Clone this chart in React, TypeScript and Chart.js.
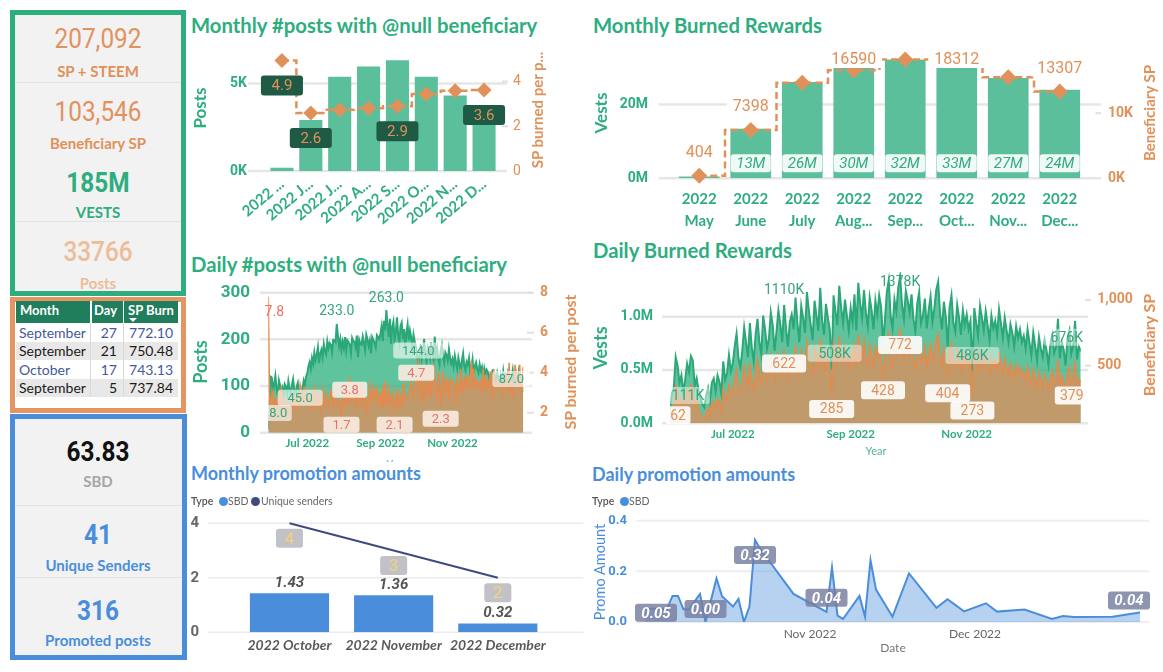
import React, { useEffect, useRef } from 'react';
import { Chart, registerables } from 'chart.js';

Chart.register(...registerables);

// ---------------- data ----------------
const monthLabelsShort = ['2022 ...', '2022 J...', '2022 J...', '2022 A...', '2022 S...', '2022 O...', '2022 N...', '2022 D...'];
const monthlyPosts = [180, 2920, 5390, 5970, 6330, 5390, 4320, 3270];
const monthlySpPerPost = [4.94, 2.6, 2.74, 2.81, 2.9, 3.44, 3.59, 3.62];
const monthlySpLabelIdx = [0, 1, 4, 7];

const burnMonthLabels = [['2022', 'May'], ['2022', 'June'], ['2022', 'July'], ['2022', 'Aug...'], ['2022', 'Sep...'], ['2022', 'Oct...'], ['2022', 'Nov...'], ['2022', 'Dec...']];
const monthlyVests = [0.5e6, 13.4e6, 26.1e6, 29.9e6, 32.2e6, 30.0e6, 27.2e6, 24.0e6];
const monthlyVestLabels = ['', '13M', '26M', '30M', '32M', '33M', '27M', '24M'];
const monthlyBeneficiarySP = [404, 7398, 14650, 16590, 18250, 18312, 15500, 13307];
const monthlyBenLabelIdx = [0, 1, 3, 5, 7];

const firstDay = 149; // 2022-05-29 as day of year
const dayTickValues = [182, 244, 305];
const dayTickLabels = ['Jul 2022', 'Sep 2022', 'Nov 2022'];

const dailyPosts = [
  8, 52, 120,
  118, 86, 105, 122, 95, 78, 112, 101, 88, 96, 72, 104, 99, 83, 110, 94, 81, 102, 115, 92, 76, 98, 107, 89, 45, 84, 96, 112, 103, 120,
  128, 142, 151, 137, 160, 148, 172, 155, 166, 183, 149, 170, 178, 162, 190, 175, 168, 196, 181, 192, 188, 172, 199, 198, 194, 233, 207, 186, 201, 178, 195,
  182, 205, 176, 198, 194, 189, 171, 203, 196, 195, 184, 208, 162, 199, 190, 188, 206, 193, 177, 210, 200, 186, 198, 170, 205, 199, 192, 183, 209, 205, 201,
  212, 228, 196, 240, 219, 263, 231, 205, 244, 190, 226, 238, 199, 215, 247, 208, 193, 229, 236, 201, 222, 187, 214, 232, 198, 219, 205, 183, 210, 196,
  186, 172, 144, 165, 190, 158, 178, 201, 169, 152, 183, 175, 161, 194, 170, 156, 206, 168, 181, 159, 147, 176, 188, 163, 150, 172, 166, 154, 179, 160, 148,
  158, 142, 165, 150, 137, 161, 148, 129, 155, 170, 143, 134, 152, 146, 160, 131, 139, 157, 125, 144, 151, 136, 128, 147, 133, 141, 120, 138, 126, 135,
  130, 118, 124, 109, 136, 112, 121, 104, 127, 115, 98, 122, 110, 131, 106, 117, 95, 125, 113, 102, 119, 134, 108, 96, 123, 111, 129, 101, 116, 105, 87,
];
const dailySpPerPost = [
  7.8, 3.0, 2.4,
  2.9, 3.1, 2.4, 2.6, 2.2, 2.8, 3.0, 2.5, 3.2, 2.9, 2.3, 2.6, 2.1, 2.4, 2.0, 2.2, 2.5, 2.7, 2.3, 2.6, 2.9, 2.2, 2.6, 2.4, 3.4, 3.1, 2.5, 2.7, 3.3, 2.6,
  2.5, 2.8, 3.1, 2.4, 2.2, 2.7, 3.3, 2.9, 2.3, 3.0, 2.6, 2.1, 2.8, 3.2, 2.5, 2.3, 3.0, 2.8, 2.4, 2.6, 3.1, 2.9, 2.2, 2.7, 3.0, 2.4, 2.5, 2.7, 2.6, 1.7, 2.8,
  3.0, 2.5, 3.2, 2.7, 2.3, 3.8, 2.9, 2.6, 3.3, 3.0, 2.7, 2.2, 3.4, 2.8, 2.5, 3.5, 2.6, 2.4, 3.1, 2.8, 1.9, 2.6, 3.4, 3.0, 2.5, 3.3, 3.1, 2.7, 3.2, 2.8, 2.4,
  2.9, 2.4, 3.4, 2.2, 3.6, 2.5, 2.6, 3.4, 2.4, 2.7, 3.0, 2.5, 2.1, 3.0, 2.6, 3.2, 2.2, 2.8, 2.3, 3.4, 3.5, 2.7, 2.6, 2.8, 3.0, 3.2, 3.7, 3.1, 2.8, 3.5,
  3.5, 3.4, 4.7, 3.3, 2.5, 4.0, 3.9, 2.6, 3.3, 4.3, 2.8, 3.4, 4.1, 2.7, 3.6, 4.5, 3.6, 3.4, 2.7, 4.0, 3.8, 2.3, 3.2, 4.1, 3.5, 2.8, 3.7, 3.6, 2.6, 3.7, 3.5,
  3.6, 3.5, 3.3, 2.4, 3.9, 3.2, 3.1, 4.2, 3.6, 2.9, 3.7, 3.8, 3.4, 3.9, 3.1, 3.6, 4.6, 3.8, 4.2, 3.1, 3.7, 3.6, 3.3, 3.5, 3.6, 2.9, 4.2, 3.3, 3.9, 3.2,
  3.5, 3.3, 4.0, 3.9, 2.6, 4.2, 3.4, 3.2, 3.6, 3.4, 3.5, 3.6, 3.5, 2.8, 3.9, 4.0, 3.9, 3.2, 4.5, 2.8, 3.6, 2.9, 2.8, 4.4, 4.0, 3.3, 3.2, 4.4, 2.9, 3.8, 4.3,
];
const dailyVestsK = [
  111, 280, 330,
  620, 540, 380, 450, 290, 410, 560, 480, 630, 590, 350, 420, 310, 240, 180, 150, 260, 330, 210, 380, 420, 300, 450, 390, 280, 580, 410, 470, 640, 490,
  560, 720, 840, 610, 530, 680, 900, 760, 620, 940, 710, 580, 830, 980, 760, 650, 1010, 880, 700, 790, 1040, 920, 680, 860, 1060, 930, 760, 1110, 890, 720, 950,
  1020, 880, 1180, 940, 760, 1100, 990, 850, 1230, 1060, 920, 780, 1150, 1010, 870, 1270, 960, 830, 1120, 990, 880, 508, 1200, 1050, 920, 1290, 1080, 940, 1160, 1010, 870,
  1080, 950, 1210, 870, 1318, 1120, 990, 1250, 1040, 910, 1180, 1060, 880, 1150, 1020, 1200, 1090, 764, 960, 1230, 1340, 1010, 890, 1160, 1050, 1270, 1378, 1110, 980, 1240,
  1150, 1040, 1209, 980, 860, 1120, 1230, 940, 1010, 1170, 890, 1060, 1190, 950, 1080, 1250, 1327, 1030, 880, 1140, 1000, 721, 1090, 1200, 940, 860, 1110, 990, 830, 1060, 920,
  1020, 880, 960, 486, 1080, 940, 820, 1100, 990, 870, 1050, 920, 780, 1010, 890, 960, 830, 1070, 940, 800, 990, 870, 760, 930, 850, 720, 910, 800, 880, 760,
  820, 700, 880, 760, 640, 850, 730, 590, 810, 700, 620, 780, 680, 550, 740, 830, 660, 720, 980, 610, 760, 690, 540, 800, 870, 650, 730, 960, 600, 720, 676,
];
const dailySP = [
  62, 157, 185,
  347, 302, 213, 252, 162, 230, 314, 269, 353, 330, 196, 235, 174, 134, 101, 84, 146, 185, 118, 213, 235, 168, 252, 218, 157, 325, 230, 263, 358, 274,
  314, 403, 470, 342, 297, 381, 504, 426, 347, 526, 398, 325, 465, 549, 426, 364, 566, 493, 392, 442, 582, 515, 381, 482, 594, 521, 426, 622, 498, 403, 532,
  571, 493, 661, 526, 426, 616, 554, 476, 689, 594, 515, 437, 644, 566, 487, 711, 538, 465, 627, 554, 493, 285, 672, 588, 515, 722, 605, 526, 650, 566, 487,
  605, 532, 678, 487, 738, 627, 554, 700, 582, 510, 661, 594, 493, 644, 571, 672, 610, 428, 538, 689, 750, 566, 498, 650, 588, 711, 772, 622, 549, 694,
  644, 582, 677, 549, 482, 627, 689, 526, 566, 655, 498, 594, 666, 532, 605, 700, 743, 577, 493, 638, 560, 404, 610, 672, 526, 482, 622, 554, 465, 594, 515,
  571, 493, 538, 273, 605, 526, 459, 616, 554, 487, 588, 515, 437, 566, 498, 538, 465, 599, 526, 448, 554, 487, 426, 521, 476, 403, 510, 448, 493, 426,
  459, 392, 493, 426, 358, 476, 409, 330, 454, 392, 347, 437, 381, 308, 414, 465, 370, 403, 549, 342, 426, 386, 302, 448, 487, 364, 409, 538, 336, 403, 379,
];

const promoMonths = ['2022 October', '2022 November', '2022 December'];
const promoMonthlySBD = [1.43, 1.36, 0.32];
const promoMonthlySenders = [4, 3, 2];

const promoDays = [275, 279, 280, 281, 282, 283, 285, 286, 288, 289, 291, 292, 293, 294, 295, 296, 302, 308, 309, 310, 311, 314, 315, 316, 317, 320, 323, 328, 330, 333, 337, 339, 344, 349, 351, 353, 360, 365];
const promoDailySBD = [0.052, 0.052, 0.103, 0.103, 0.05, 0.05, 0.111, 0.0, 0.172, 0.102, 0.061, 0.091, 0.0, 0.062, 0.324, 0.287, 0.111, 0.04, 0.215, 0.025, 0.012, 0.103, 0.021, 0.244, 0.128, 0.021, 0.192, 0.056, 0.09, 0.042, 0.074, 0.041, 0.049, 0.012, 0.024, 0.02, 0.021, 0.038];
const promoTickValues = [305, 335];
const promoTickLabels = ['Nov 2022', 'Dec 2022'];

const tableMonths = ['September', 'September', 'October', 'September'];
const tableDays = [27, 21, 17, 5];
const tableSpBurn = [772.10, 750.48, 743.13, 737.84];

// ---------------- style ----------------
const GREEN = '#2EAD7F';
const BAR_GREEN = '#5CBF9B';
const ORANGE = '#E0915A';
const BLUE = '#4A8EDB';
const SEGOE = "Lato, 'Open Sans', 'Noto Sans', sans-serif";
const DIN = "Roboto, 'DejaVu Sans', sans-serif";

// ---------------- plugins ----------------
function gridLines(specs: any[]) {
  return {
    id: 'gridLines',
    beforeDatasetsDraw(chart: any) {
      const ctx = chart.ctx;
      specs.forEach((g) => {
        const sc = chart.scales[g.scale];
        const vals = g.values || sc.ticks.map((t: any) => t.value);
        ctx.save();
        ctx.strokeStyle = g.color;
        ctx.lineWidth = g.width;
        vals.forEach((v: number) => {
          const y = sc.getPixelForValue(v);
          ctx.beginPath();
          ctx.moveTo(g.from, y);
          ctx.lineTo(g.to, y);
          ctx.stroke();
        });
        ctx.restore();
      });
    },
  };
}

function pointLabels(items: any[]) {
  return {
    id: 'pointLabels',
    afterDatasetsDraw(chart: any) {
      const ctx = chart.ctx;
      const area = chart.chartArea;
      items.forEach((it) => {
        const el: any = chart.getDatasetMeta(it.ds).data[it.i];
        if (!el) return;
        const x = el.x + (it.dx || 0);
        let y = (it.base ? el.base : el.y) + (it.dy || 0);
        if (it.minTop !== undefined) y = Math.max(y, area.top + it.minTop);
        ctx.save();
        ctx.font = it.font;
        const tw = ctx.measureText(it.text).width;
        const w = it.w || tw + 12;
        const h = it.h || 18;
        if (it.bg) {
          ctx.fillStyle = it.bg;
          ctx.beginPath();
          ctx.roundRect(x - w / 2, y - h / 2, w, h, it.r === undefined ? 3 : it.r);
          ctx.fill();
        }
        ctx.fillStyle = it.color;
        ctx.textAlign = 'center';
        ctx.textBaseline = 'middle';
        ctx.fillText(it.text, x, y + 1);
        ctx.restore();
      });
    },
  };
}

const zeroPad = (s: any) => { s.paddingTop = 0; s.paddingBottom = 0; s.paddingLeft = 0; s.paddingRight = 0; };
const fixW = (w: number) => (s: any) => { s.width = w; zeroPad(s); };
const fixH = (h: number) => (s: any) => { s.height = h; zeroPad(s); };
const setTicks = (vals: number[]) => (s: any) => { s.ticks = vals.map((v) => ({ value: v })); };
const noGrid = { display: false, drawTicks: false };
const noBorder = { display: false };
const baseOpts = { responsive: false, maintainAspectRatio: false, animation: false as const, events: [] as any[] };
const noPlug = { legend: { display: false }, tooltip: { enabled: false } };

// ---------------- chart configs ----------------
function monthlyPostsConfig(): any {
  const cl = 186;
  const lbl = (i: number) => ({ ds: 0, i, text: monthlySpPerPost[i].toFixed(1), dy: 25, bg: '#1F5A45', color: ORANGE, font: `15px ${DIN}`, w: 42, h: 20 });
  return {
    type: 'bar',
    data: {
      labels: monthLabelsShort,
      datasets: [
        { type: 'line', data: monthlySpPerPost, yAxisID: 'y2', order: 0, stepped: 'middle', borderColor: ORANGE, borderWidth: 2.5, borderDash: [7, 4], pointStyle: 'rectRot', pointRadius: 7.5, pointBackgroundColor: ORANGE, pointBorderWidth: 0, fill: false, clip: false },
        { type: 'bar', data: monthlyPosts, yAxisID: 'y', order: 1, backgroundColor: BAR_GREEN, barPercentage: 0.8, categoryPercentage: 1 },
      ],
    },
    options: {
      ...baseOpts,
      layout: { padding: { top: 0, left: 0, right: 0, bottom: 0 } },
      plugins: noPlug,
      scales: {
        x: { grid: noGrid, border: noBorder, ticks: { color: GREEN, font: { family: SEGOE, size: 15, weight: 'bold' }, minRotation: 40, maxRotation: 40, padding: 4, autoSkip: false }, afterFit: fixH(79) },
        y: { position: 'left', min: 0, max: 7000, grid: noGrid, border: noBorder, afterBuildTicks: setTicks([0, 5000]), ticks: { color: GREEN, font: { family: DIN, size: 14, weight: 'bold' }, padding: 20.5, callback: (v: any) => v / 1000 + 'K' }, afterFit: fixW(81.5) },
        y2: { position: 'right', min: 0, max: 5.48, grid: noGrid, border: noBorder, afterBuildTicks: setTicks([0, 2, 4]), ticks: { color: ORANGE, font: { family: DIN, size: 14 }, padding: 14.5 }, afterFit: fixW(87.5) },
      },
    },
    plugins: [
      gridLines([
        { scale: 'y', from: 248 - cl, to: 507 - cl, color: '#E6E6E6', width: 2.5 },
        { scale: 'y2', values: [2, 4], from: 502 - cl, to: 508 - cl, color: '#E0E0E0', width: 2 },
      ]),
      pointLabels(monthlySpLabelIdx.map(lbl)),
    ],
  };
}

function monthlyBurnConfig(): any {
  const cl = 586;
  const items: any[] = [];
  monthlyBenLabelIdx.forEach((i) => items.push({ ds: 0, i, text: String(monthlyBeneficiarySP[i]), dy: -24, minTop: 11, bg: '#FFFFFF', color: ORANGE, font: `16px ${DIN}`, h: 18, r: 0 }));
  monthlyVestLabels.forEach((t, i) => { if (t) items.push({ ds: 1, i, base: true, text: t, dy: -15, bg: 'rgba(255,255,255,0.9)', color: GREEN, font: `italic 15px ${DIN}`, w: 40, h: 18, r: 3 }); });
  return {
    type: 'bar',
    data: {
      labels: burnMonthLabels,
      datasets: [
        { type: 'line', data: monthlyBeneficiarySP, yAxisID: 'y2', order: 0, stepped: 'middle', borderColor: ORANGE, borderWidth: 2.5, borderDash: [7, 4], pointStyle: 'rectRot', pointRadius: 8, pointBackgroundColor: ORANGE, pointBorderWidth: 0, fill: false, clip: false },
        { type: 'bar', data: monthlyVests, yAxisID: 'y', order: 1, backgroundColor: BAR_GREEN, barPercentage: 0.79, categoryPercentage: 1 },
      ],
    },
    options: {
      ...baseOpts,
      layout: { padding: { top: 5, left: 0, right: 0, bottom: 0 } },
      plugins: noPlug,
      scales: {
        x: { grid: noGrid, border: noBorder, ticks: { color: GREEN, font: { family: SEGOE, size: 15, weight: 'bold', lineHeight: 1.45 }, maxRotation: 0, minRotation: 0, padding: 10, autoSkip: false }, afterFit: fixH(71.7) },
        y: { position: 'left', min: 0, max: 35.3e6, grid: noGrid, border: noBorder, afterBuildTicks: setTicks([0, 20e6]), ticks: { color: GREEN, font: { family: DIN, size: 14, weight: 'bold' }, padding: 25.5, callback: (v: any) => v / 1e6 + 'M' }, afterFit: fixW(87.5) },
        y2: { position: 'right', min: 0, max: 20000, grid: noGrid, border: noBorder, afterBuildTicks: setTicks([0, 10000]), ticks: { color: ORANGE, font: { family: DIN, size: 14, weight: 'bold' }, padding: 22.5, callback: (v: any) => v / 1000 + 'K' }, afterFit: fixW(77.5) },
      },
    },
    plugins: [
      gridLines([
        { scale: 'y', from: 658.7 - cl, to: 1101 - cl, color: '#E6E6E6', width: 2.5 },
        { scale: 'y2', values: [10000], from: 1095.5 - cl, to: 1101 - cl, color: '#E0E0E0', width: 2 },
      ]),
      pointLabels(items),
    ],
  };
}

const GREEN_FILL = 'rgba(50,180,130,0.78)';
const ORANGE_FILL = 'rgba(197,152,104,0.96)';

function dailyPostsConfig(): any {
  const cl = 186;
  const gBox = 'rgba(255,255,255,0.62)';
  const oBox = 'rgba(250,236,226,0.9)';
  const gf = `13px ${DIN}`;
  const gcol = '#36A67C';
  const ocol = '#E8736C';
  const P = (i: number, dx: number, dy: number, box: boolean, w?: number) => ({ ds: 1, i, text: dailyPosts[i].toFixed(1), dx, dy, bg: box ? gBox : undefined, color: gcol, font: box ? gf : `14px ${DIN}`, w, h: 16 });
  const S = (i: number, dx: number, dy: number, box: boolean, w?: number) => ({ ds: 0, i, text: dailySpPerPost[i].toFixed(1), dx, dy, bg: box ? oBox : undefined, color: ocol, font: box ? gf : `14px ${DIN}`, w, h: 16 });
  return {
    type: 'line',
    data: {
      datasets: [
        { data: dailySpPerPost.map((v, i) => ({ x: firstDay + i, y: v })), yAxisID: 'y2', order: 0, borderColor: '#E8884A', borderWidth: 1.5, pointRadius: 0, fill: 'start', backgroundColor: ORANGE_FILL, tension: 0 },
        { data: dailyPosts.map((v, i) => ({ x: firstDay + i, y: v })), yAxisID: 'y', order: 1, borderColor: '#2AA877', borderWidth: 2, pointRadius: 0, fill: 'start', backgroundColor: GREEN_FILL, tension: 0 },
      ],
    },
    options: {
      ...baseOpts,
      layout: { padding: { top: 12.7, left: 0, right: 0, bottom: 0 } },
      plugins: noPlug,
      scales: {
        x: { type: 'linear', min: firstDay, max: firstDay + dailyPosts.length - 1, grid: noGrid, border: noBorder, afterBuildTicks: setTicks(dayTickValues), ticks: { color: GREEN, font: { family: SEGOE, size: 11.5, weight: 'bold' }, padding: 4, maxRotation: 0, autoSkip: false, callback: (v: any) => dayTickLabels[dayTickValues.indexOf(v)] }, afterFit: fixH(27.3) },
        y: { position: 'left', min: 0, max: 300, grid: noGrid, border: noBorder, afterBuildTicks: setTicks([0, 100, 200, 300]), ticks: { color: GREEN, font: { family: DIN, size: 17, weight: 'bold' }, padding: 18.3 }, afterFit: fixW(82.3) },
        y2: { position: 'right', min: 1, max: 8, grid: noGrid, border: noBorder, afterBuildTicks: setTicks([2, 4, 6, 8]), ticks: { color: ORANGE, font: { family: DIN, size: 14, weight: 'bold' }, padding: 16.7 }, afterFit: fixW(62.7) },
      },
    },
    plugins: [
      gridLines([
        { scale: 'y', from: 260 - cl, to: 531.7 - cl, color: '#E6E6E6', width: 2.5 },
        { scale: 'y2', from: 527 - cl, to: 534 - cl, color: '#E0E0E0', width: 2 },
      ]),
      pointLabels([
        P(0, 10, -16, true, 27), P(27, 0, -14, true, 45), P(58, 0, -13, false), P(100, 0, -12, false), P(127, 0, -15, true, 50), P(216, -12, -13, true, 38),
        S(0, 6, 15, false), S(62, 0, 6, true, 36), S(69, 0, 13, true, 35), S(107, 0, 14, true, 36), S(127, -2, 14, true, 36), S(146, 0, 12, true, 36),
      ]),
    ],
  };
}

function dailyBurnConfig(): any {
  const cl = 586;
  const gBox = 'rgba(255,255,255,0.45)';
  const oBox = 'rgba(255,255,255,0.9)';
  const f = `14px ${DIN}`;
  const gcol = '#36A67C';
  const V = (i: number, dx: number, dy: number, box: boolean, w?: number) => ({ ds: 1, i, text: Math.round(dailyVestsK[i]) + 'K', dx, dy, bg: box ? gBox : undefined, color: gcol, font: f, w, h: 17 });
  const S = (i: number, dx: number, dy: number, w?: number) => ({ ds: 0, i, text: String(dailySP[i]), dx, dy, bg: oBox, color: ORANGE, font: f, w, h: 18 });
  return {
    type: 'line',
    data: {
      datasets: [
        { data: dailySP.map((v, i) => ({ x: firstDay + i, y: v })), yAxisID: 'y2', order: 0, borderColor: '#E8884A', borderWidth: 1.5, pointRadius: 0, fill: 'start', backgroundColor: ORANGE_FILL, tension: 0 },
        { data: dailyVestsK.map((v, i) => ({ x: firstDay + i, y: v })), yAxisID: 'y', order: 1, borderColor: '#2AA877', borderWidth: 2, pointRadius: 0, fill: 'start', backgroundColor: GREEN_FILL, tension: 0 },
      ],
    },
    options: {
      ...baseOpts,
      layout: { padding: { top: 10, left: 0, right: 0, bottom: 0 } },
      plugins: noPlug,
      scales: {
        x: { type: 'linear', min: firstDay, max: firstDay + dailyVestsK.length - 1, grid: noGrid, border: noBorder, afterBuildTicks: setTicks(dayTickValues), ticks: { color: GREEN, font: { family: SEGOE, size: 11.5, weight: 'bold' }, padding: 4, maxRotation: 0, autoSkip: false, callback: (v: any) => dayTickLabels[dayTickValues.indexOf(v)] }, afterFit: fixH(28.7) },
        y: { position: 'left', min: 0, max: 1419, grid: noGrid, border: noBorder, afterBuildTicks: setTicks([0, 500, 1000]), ticks: { color: GREEN, font: { family: DIN, size: 14, weight: 'bold' }, padding: 17, callback: (v: any) => (v / 1000).toFixed(1) + 'M' }, afterFit: fixW(84) },
        y2: { position: 'right', min: 62, max: 1212, grid: noGrid, border: noBorder, afterBuildTicks: setTicks([500, 1000]), ticks: { color: ORANGE, font: { family: DIN, size: 14, weight: 'bold' }, padding: 16.4, callback: (v: any) => Number(v).toLocaleString('en-US') }, afterFit: fixW(82.2) },
      },
    },
    plugins: [
      gridLines([
        { scale: 'y', from: 662 - cl, to: 1088 - cl, color: '#E6E6E6', width: 2.5 },
        { scale: 'y2', from: 1085 - cl, to: 1091 - cl, color: '#E0E0E0', width: 2 },
      ]),
      pointLabels([
        V(0, 18, -16, true, 44), V(60, 0, -15, false), V(85, 3, -16, true, 54), V(121, 0, 5, false), V(159, 0, -16, true, 54), V(216, -14, -14, true, 46),
        S(0, 8, -8, 25), S(60, 0, 14, 44), S(85, 0, 15, 45), S(112, 0, 15, 44), S(121, 0, 15, 44), S(146, 0, 15, 45), S(159, 0, 15, 44), S(216, -9, 14, 34),
      ]),
    ],
  };
}

function monthlyPromoConfig(): any {
  const cl = 186;
  const items: any[] = [];
  promoMonthlySenders.forEach((v, i) => items.push({ ds: 0, i, text: String(v), dy: 15, bg: 'rgba(178,178,186,0.8)', color: '#F2D478', font: `17px ${DIN}`, w: 27, h: 19 }));
  promoMonthlySBD.forEach((v, i) => items.push({ ds: 1, i, text: v.toFixed(2), dy: -11, color: '#555555', font: `italic bold 15px ${DIN}` }));
  return {
    type: 'bar',
    data: {
      labels: promoMonths,
      datasets: [
        { type: 'line', data: promoMonthlySenders, order: 0, borderColor: '#3F4A80', borderWidth: 2, pointRadius: 0, fill: false, clip: false },
        { type: 'bar', data: promoMonthlySBD, order: 1, backgroundColor: BLUE, barPercentage: 0.76, categoryPercentage: 1 },
      ],
    },
    options: {
      ...baseOpts,
      layout: { padding: { top: 10, left: 0, right: 36.1, bottom: 0 } },
      plugins: noPlug,
      scales: {
        x: { grid: noGrid, border: noBorder, ticks: { color: '#5A5A5A', font: { family: SEGOE, size: 14, weight: 'bold', style: 'italic' }, padding: 5, maxRotation: 0, autoSkip: false }, afterFit: fixH(32.7) },
        y: { min: 0, max: 4.305, grid: noGrid, border: noBorder, afterBuildTicks: setTicks([0, 2, 4]), ticks: { color: '#666666', font: { family: DIN, size: 15, weight: 'bold' }, padding: 38.4 }, afterFit: fixW(51.4) },
      },
    },
    plugins: [
      gridLines([{ scale: 'y', from: 208.3 - cl, to: 583.3 - cl, color: '#EBEBEB', width: 1.5 }]),
      pointLabels(items),
    ],
  };
}

function dailyPromoConfig(): any {
  const cl = 586;
  const L = (i: number, dx: number, dy: number) => ({ ds: 0, i, text: promoDailySBD[i].toFixed(2), dx, dy, bg: 'rgba(118,126,160,0.82)', color: '#FFFFFF', font: `italic bold 15px ${DIN}`, w: 42, h: 18 });
  const last = promoDailySBD.length - 1;
  return {
    type: 'line',
    data: {
      datasets: [
        { data: promoDays.map((d, i) => ({ x: d, y: promoDailySBD[i] })), borderColor: BLUE, borderWidth: 2, pointRadius: 0, fill: 'origin', backgroundColor: 'rgba(74,142,219,0.4)', tension: 0 },
      ],
    },
    options: {
      ...baseOpts,
      layout: { padding: { top: 15.7, left: 0, right: 23, bottom: 0 } },
      plugins: noPlug,
      scales: {
        x: { type: 'linear', min: promoDays[0], max: promoDays[last], grid: noGrid, border: noBorder, afterBuildTicks: setTicks(promoTickValues), ticks: { color: '#666666', font: { family: SEGOE, size: 12 }, padding: 5, maxRotation: 0, autoSkip: false, callback: (v: any) => promoTickLabels[promoTickValues.indexOf(v)] }, afterFit: fixH(43) },
        y: { min: 0, max: 0.4, grid: noGrid, border: noBorder, afterBuildTicks: setTicks([0, 0.2, 0.4]), ticks: { color: BLUE, font: { family: DIN, size: 13, weight: 'bold' }, padding: 18, callback: (v: any) => Number(v).toFixed(1) }, afterFit: fixW(59) },
      },
    },
    plugins: [
      gridLines([{ scale: 'y', from: 636.6 - cl, to: 1149 - cl, color: '#EEEEEE', width: 2 }]),
      pointLabels([L(0, 11, 4), L(7, 0, -13), L(14, 0, 15), L(17, 0, -14), L(last, -11, -12)]),
    ],
  };
}

// ---------------- components ----------------
function ChartCanvas({ x, y, w, h, make }: any) {
  const ref = useRef<HTMLCanvasElement>(null);
  useEffect(() => {
    const chart = new Chart(ref.current as HTMLCanvasElement, make());
    return () => chart.destroy();
  }, []);
  return <canvas ref={ref} width={w} height={h} style={{ position: 'absolute', left: x, top: y, width: w, height: h, display: 'block' }} />;
}

function Txt({ x, y, children, size = 14, color = '#333', weight = 400, family = SEGOE, align = 'center', italic = false, sx = 1, rot = 0 }: any) {
  const tx = align === 'center' ? '-50%' : align === 'right' ? '-100%' : '0';
  const tf = `translate(${tx},-50%)` + (rot ? ` rotate(${rot}deg)` : '') + (sx !== 1 ? ` scaleX(${sx})` : '');
  return (
    <div style={{ position: 'absolute', left: x, top: y, transform: tf, fontSize: size, color, fontWeight: weight, fontFamily: family, fontStyle: italic ? 'italic' : 'normal', whiteSpace: 'nowrap', lineHeight: 1 }}>
      {children}
    </div>
  );
}

function Box({ x, y, w, h, border, bg }: any) {
  return <div style={{ position: 'absolute', left: x, top: y, width: w, height: h, boxSizing: 'border-box', border: `5px solid ${border}`, background: bg }} />;
}

function Rule({ x, y, w, color = '#E3E3E3' }: any) {
  return <div style={{ position: 'absolute', left: x, top: y, width: w, height: 1, background: color }} />;
}

function KpiNumber({ x, y, text, color, weight = 400 }: any) {
  return <Txt x={x} y={y} size={28} color={color} weight={weight} family={DIN} sx={0.87}>{text}</Txt>;
}

export default function App() {
  const rowTop = 323.3;
  const rowH = 18.5;
  return (
    <div style={{ position: 'fixed', left: 0, top: 0, width: 1163, height: 672, background: '#FFFFFF', overflow: 'hidden', fontFamily: SEGOE }}>
      {/* left: green KPI card */}
      <Box x={10} y={10} w={176} h={286} border={GREEN} bg="#F2F2F2" />
      <KpiNumber x={98} y={39} text="207,092" color="#E3915E" />
      <Txt x={98} y={70.5} size={15} weight={700} color={ORANGE}>SP + STEEM</Txt>
      <Rule x={15} y={82} w={166} />
      <KpiNumber x={98} y={112} text="103,546" color="#E3915E" />
      <Txt x={98} y={143} size={15} weight={700} color={ORANGE}>Beneficiary SP</Txt>
      <KpiNumber x={98} y={183} text="185M" color={GREEN} weight={700} />
      <Txt x={98} y={212} size={15} weight={700} color={GREEN}>VESTS</Txt>
      <Rule x={15} y={221} w={166} />
      <KpiNumber x={98} y={252} text="33766" color="#EDBC99" weight={500} />
      <Txt x={98} y={283} size={15} weight={700} color="#EDBC99">Posts</Txt>

      {/* left: orange table card */}
      <Box x={10} y={297} w={176} h={116} border="#E39563" bg="#FFFFFF" />
      <div style={{ position: 'absolute', left: 16, top: 300.7, width: 162, height: 22.6, background: '#217E5C' }} />
      <div style={{ position: 'absolute', left: 90, top: 300.7, width: 1.5, height: 22.6, background: '#FFFFFF' }} />
      <div style={{ position: 'absolute', left: 122.5, top: 300.7, width: 1.5, height: 22.6, background: '#FFFFFF' }} />
      <Txt x={20} y={310} align="left" size={13} weight={700} color="#FFFFFF">Month</Txt>
      <Txt x={117} y={310} align="right" size={13} weight={700} color="#FFFFFF">Day</Txt>
      <Txt x={128} y={310} align="left" size={13} weight={700} color="#FFFFFF">SP Burn</Txt>
      <div style={{ position: 'absolute', left: 129, top: 317.5, width: 0, height: 0, borderLeft: '4px solid transparent', borderRight: '4px solid transparent', borderTop: '4px solid #FFFFFF' }} />
      {tableMonths.map((m, k) => {
        const top = rowTop + k * rowH;
        const col = k % 2 === 0 ? '#44599A' : '#1A1A1A';
        return (
          <React.Fragment key={k}>
            <div style={{ position: 'absolute', left: 16, top, width: 162, height: rowH, background: k % 2 === 0 ? '#FFFFFF' : '#E8E8E8' }} />
            <div style={{ position: 'absolute', left: 90, top, width: 1, height: rowH, background: '#D8D8D8' }} />
            <div style={{ position: 'absolute', left: 122.5, top, width: 1, height: rowH, background: '#D8D8D8' }} />
            <Txt x={19} y={top + rowH / 2} align="left" size={14} color={col}>{m}</Txt>
            <Txt x={117} y={top + rowH / 2} align="right" size={14} color={col}>{tableDays[k]}</Txt>
            <Txt x={173} y={top + rowH / 2} align="right" size={14} color={col}>{tableSpBurn[k].toFixed(2)}</Txt>
          </React.Fragment>
        );
      })}

      {/* left: blue KPI card */}
      <Box x={10} y={414} w={177} h={246} border={BLUE} bg="#F2F2F2" />
      <KpiNumber x={98} y={452} text="63.83" color="#111111" weight={700} />
      <Txt x={98} y={481} size={15} weight={700} color="#A6A6A6">SBD</Txt>
      <Rule x={15} y={505} w={167} />
      <KpiNumber x={98} y={534.5} text="41" color={BLUE} weight={700} />
      <Txt x={98} y={564.5} size={15} weight={700} color={BLUE}>Unique Senders</Txt>
      <Rule x={15} y={577} w={167} />
      <KpiNumber x={98} y={611} text="316" color={BLUE} weight={700} />
      <Txt x={98} y={640} size={15} weight={700} color={BLUE}>Promoted posts</Txt>

      {/* section titles */}
      <Txt x={191} y={25} align="left" size={20.3} weight={700} color={GREEN}>Monthly #posts with @null beneficiary</Txt>
      <Txt x={593} y={25} align="left" size={20.3} weight={700} color={GREEN}>Monthly Burned Rewards</Txt>
      <Txt x={191} y={264} align="left" size={20.3} weight={700} color={GREEN}>Daily #posts with @null beneficiary</Txt>
      <Txt x={593} y={250} align="left" size={20.3} weight={700} color={GREEN}>Daily Burned Rewards</Txt>
      <Txt x={191} y={473} align="left" size={18} weight={700} color={BLUE}>Monthly promotion amounts</Txt>
      <Txt x={592} y={474} align="left" size={18} weight={700} color={BLUE}>Daily promotion amounts</Txt>

      {/* charts */}
      <ChartCanvas x={186} y={41} w={400} h={209} make={monthlyPostsConfig} />
      <ChartCanvas x={586} y={40} w={577} h={210} make={monthlyBurnConfig} />
      <ChartCanvas x={186} y={280} w={400} h={180} make={dailyPostsConfig} />
      <ChartCanvas x={586} y={262} w={577} h={190} make={dailyBurnConfig} />
      <ChartCanvas x={186} y={505} w={400} h={160} make={monthlyPromoConfig} />
      <ChartCanvas x={586} y={505} w={577} h={160} make={dailyPromoConfig} />

      {/* axis titles */}
      <Txt x={199} y={108} size={17} weight={700} color={GREEN} rot={-90}>Posts</Txt>
      <Txt x={537} y={110} size={15} weight={700} color={ORANGE} rot={-90}>SP burned per p...</Txt>
      <Txt x={600} y={113} size={17} weight={700} color={GREEN} rot={-90}>Vests</Txt>
      <Txt x={1149} y={112.5} size={15} weight={700} color={ORANGE} rot={-90}>Beneficiary SP</Txt>
      <Txt x={200} y={362} size={18} weight={700} color={GREEN} rot={-90}>Posts</Txt>
      <Txt x={570} y={362} size={16} weight={700} color={ORANGE} rot={-90}>SP burned per post</Txt>
      <Txt x={600} y={348} size={18} weight={700} color={GREEN} rot={-90}>Vests</Txt>
      <Txt x={1149} y={345} size={16} weight={700} color={ORANGE} rot={-90}>Beneficiary SP</Txt>
      <Txt x={600} y={572} size={14.5} color={BLUE} rot={-90}>Promo Amount</Txt>
      <div style={{ position: 'absolute', left: 370, top: 455, width: 60, height: 7, overflow: 'hidden' }}>
        <Txt x={27} y={8} size={11} color="#5EBF9E">Year</Txt>
      </div>
      <Txt x={876} y={450} size={11} color="#52B38E">Year</Txt>
      <Txt x={893} y={648} size={12} color="#777777">Date</Txt>

      {/* legends */}
      <Txt x={191} y={501} align="left" size={10.5} weight={600} color="#555555">Type</Txt>
      <div style={{ position: 'absolute', left: 218.5, top: 496.5, width: 9, height: 9, borderRadius: '50%', background: BLUE }} />
      <Txt x={228} y={501} align="left" size={10.5} color="#666666">SBD</Txt>
      <div style={{ position: 'absolute', left: 251, top: 496.5, width: 9, height: 9, borderRadius: '50%', background: '#3F4A80' }} />
      <Txt x={261} y={501} align="left" size={10.5} color="#666666">Unique senders</Txt>
      <Txt x={592} y={501} align="left" size={10.5} weight={600} color="#555555">Type</Txt>
      <div style={{ position: 'absolute', left: 619.5, top: 496.5, width: 9, height: 9, borderRadius: '50%', background: BLUE }} />
      <Txt x={629} y={501} align="left" size={10.5} color="#666666">SBD</Txt>
    </div>
  );
}
